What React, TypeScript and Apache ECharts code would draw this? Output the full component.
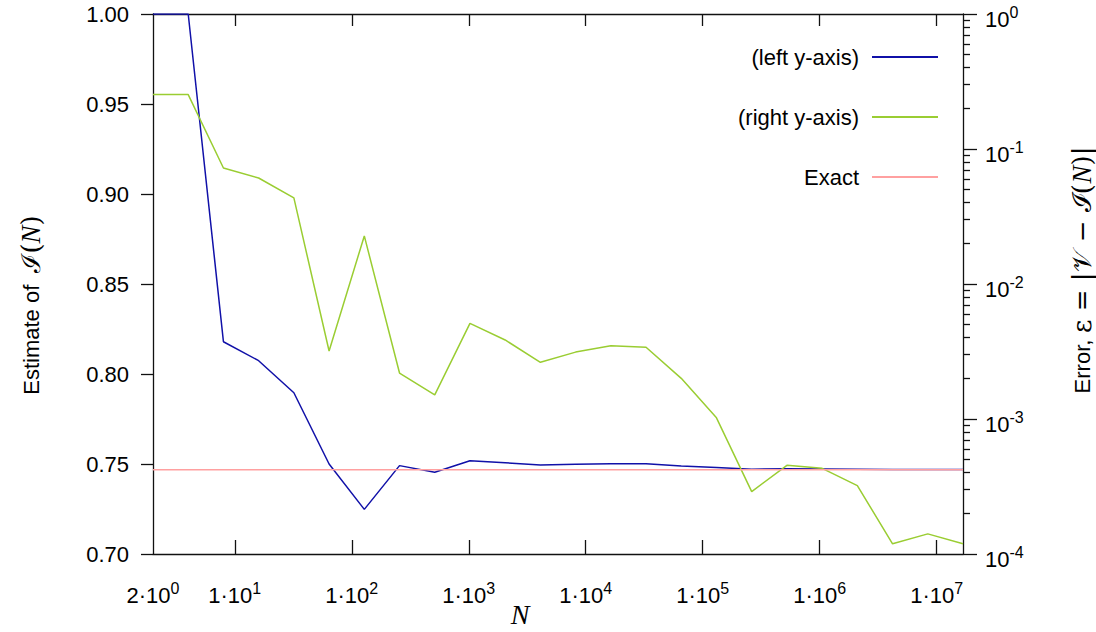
import React, { useEffect, useRef } from "react";
import * as echarts from "echarts";

// ---- data ----
const sampleSizes = [
  2, 4, 8, 16, 32, 64, 128, 256, 512, 1024, 2048, 4096, 8192, 16384, 32768,
  65536, 131072, 262144, 524288, 1048576, 2097152, 4194304, 8388608, 16777216,
];
const estimate = [
  1.0, 1.0, 0.8179, 0.8074, 0.7896, 0.75, 0.7248, 0.7491, 0.7454, 0.7518,
  0.7507, 0.7494, 0.7498, 0.7502, 0.7502, 0.7489, 0.748, 0.7471, 0.7473,
  0.7472, 0.7471, 0.7469, 0.7469, 0.7469,
];
const errorValues = [
  0.253, 0.253, 0.0723, 0.061, 0.0434, 0.00319, 0.0227, 0.00219, 0.00151,
  0.00511, 0.00385, 0.00263, 0.00313, 0.00349, 0.0034, 0.002, 0.00102,
  0.00029, 0.000454, 0.000431, 0.000321, 0.000119, 0.000141, 0.000119,
];
const exactValue = 0.7468;

const seriesNames = ["(left y-axis)", "(right y-axis)", "Exact"];
const xTickValues = [10, 100, 1e3, 1e4, 1e5, 1e6, 1e7];
const xLabelValues = [2, 10, 100, 1e3, 1e4, 1e5, 1e6, 1e7];
const rightMajorValues = [1e-4, 1e-3, 1e-2, 1e-1, 1];
const rightMinorMultipliers = [2, 3, 4, 5, 6, 7, 8, 9];
const rightMinorDecades = [1e-4, 1e-3, 1e-2, 1e-1];

const FONT = "'Liberation Sans', Arial, Helvetica, sans-serif";
const SERIF = "'DejaVu Serif', 'Liberation Serif', serif";
const ISERIF = "'Liberation Serif', 'DejaVu Serif', serif";

const BLUE = "#1010a8";
const GREEN = "#9acd32";
const PINK = "#ffa0a0";
const AXIS = { color: "#111", width: 1.3 };

const supRich = {
  b: { fontSize: 22, lineHeight: 24, verticalAlign: "bottom", fontFamily: FONT, color: "#000" },
  s: { fontSize: 16, lineHeight: 16, padding: [0, 0, 12, 0], fontFamily: FONT, color: "#000" },
};

export default function App() {
  const ref = useRef<HTMLDivElement>(null);

  useEffect(() => {
    if (!ref.current) return;
    const chart = echarts.init(ref.current, undefined, { renderer: "svg" });

    const rightMinorValues: number[] = [];
    rightMinorDecades.forEach((d) =>
      rightMinorMultipliers.forEach((m) => rightMinorValues.push(m * d))
    );
    const xMin = sampleSizes[0];
    const xMax = sampleSizes[sampleSizes.length - 1];

    const option: any = {
      animation: false,
      backgroundColor: "#fff",
      textStyle: { fontFamily: FONT },
      grid: { left: 153, right: 133, top: 14, bottom: 78, containLabel: false },
      legend: {
        orient: "vertical",
        right: 153,
        top: 41,
        align: "right",
        icon: "rect",
        itemWidth: 66,
        itemHeight: 2,
        itemGap: 38,
        selectedMode: false,
        textStyle: { fontSize: 22, color: "#000", fontFamily: FONT, padding: [0, 8, 0, 0] },
        data: seriesNames,
      },
      xAxis: [
        {
          type: "log",
          logBase: 10,
          min: xMin,
          max: xMax,
          position: "bottom",
          axisLine: { show: true, lineStyle: AXIS },
          axisTick: { show: true, inside: true, length: 14, customValues: xTickValues, lineStyle: AXIS },
          axisLabel: {
            customValues: xLabelValues,
            margin: 28,
            formatter: (v: number) => {
              const e = Math.floor(Math.log10(v) + 1e-9);
              const m = Math.round(v / Math.pow(10, e));
              return `{b|${m}·10}{s|${e}}`;
            },
            rich: supRich,
          },
          splitLine: { show: false },
          minorTick: { show: false },
        },
        {
          type: "log",
          logBase: 10,
          min: xMin,
          max: xMax,
          position: "top",
          axisLine: { show: true, lineStyle: AXIS },
          axisTick: { show: true, inside: true, length: 12, customValues: xTickValues, lineStyle: AXIS },
          axisLabel: { show: false },
          splitLine: { show: false },
        },
      ],
      yAxis: [
        {
          type: "value",
          min: 0.7,
          max: 1.0,
          interval: 0.05,
          position: "left",
          axisLine: { show: true, lineStyle: AXIS },
          axisTick: { show: true, inside: false, length: 12, lineStyle: AXIS },
          axisLabel: {
            fontSize: 22,
            color: "#000",
            margin: 24,
            fontFamily: FONT,
            formatter: (v: number) => v.toFixed(2),
          },
          splitLine: { show: false },
        },
        {
          type: "log",
          logBase: 10,
          min: 1e-4,
          max: 1,
          position: "right",
          axisLine: { show: true, lineStyle: AXIS },
          axisTick: { show: true, inside: false, length: 14, customValues: rightMajorValues, lineStyle: AXIS },
          axisLabel: {
            customValues: rightMajorValues,
            margin: 22,
            padding: [8, 0, 0, 0],
            formatter: (v: number) => `{b|10}{s|${Math.round(Math.log10(v))}}`,
            rich: supRich,
          },
          splitLine: { show: false },
        },
        {
          type: "log",
          logBase: 10,
          min: 1e-4,
          max: 1,
          position: "right",
          axisLine: { show: false },
          axisTick: { show: true, inside: false, length: 7, customValues: rightMinorValues, lineStyle: AXIS },
          axisLabel: { show: false },
          splitLine: { show: false },
        },
      ],
      series: [
        {
          name: seriesNames[0],
          type: "line",
          xAxisIndex: 0,
          yAxisIndex: 0,
          showSymbol: false,
          symbol: "none",
          lineStyle: { color: BLUE, width: 1.5 },
          itemStyle: { color: BLUE },
          data: sampleSizes.map((n, i) => [n, estimate[i]]),
        },
        {
          name: seriesNames[1],
          type: "line",
          xAxisIndex: 0,
          yAxisIndex: 1,
          showSymbol: false,
          symbol: "none",
          lineStyle: { color: GREEN, width: 1.5 },
          itemStyle: { color: GREEN },
          data: sampleSizes.map((n, i) => [n, errorValues[i]]),
        },
        {
          name: seriesNames[2],
          type: "line",
          xAxisIndex: 0,
          yAxisIndex: 0,
          showSymbol: false,
          symbol: "none",
          lineStyle: { color: PINK, width: 1.5 },
          itemStyle: { color: PINK },
          data: [
            [xMin, exactValue],
            [xMax, exactValue],
          ],
        },
      ],
      graphic: [
        {
          type: "text",
          x: 520,
          y: 614,
          style: {
            text: "N",
            fontSize: 28,
            fontStyle: "italic",
            fontFamily: ISERIF,
            fill: "#000",
            align: "center",
            verticalAlign: "middle",
          },
        },
        {
          type: "text",
          x: 31,
          y: 305,
          rotation: Math.PI / 2,
          style: {
            text: "{a|Estimate of  }{m|ℐ(}{i|N}{m|)}",
            align: "center",
            verticalAlign: "middle",
            rich: {
              a: { fontSize: 22, fontFamily: FONT, fill: "#000" },
              m: { fontSize: 26, fontFamily: SERIF, fill: "#000" },
              i: { fontSize: 27, fontFamily: ISERIF, fontStyle: "italic", fill: "#000" },
            },
          },
        },
        {
          type: "text",
          x: 1082,
          y: 270,
          rotation: Math.PI / 2,
          style: {
            text: "{a|Error, }{m|ε = |𝒱 − ℐ(}{i|N}{m|)|}",
            align: "center",
            verticalAlign: "middle",
            rich: {
              a: { fontSize: 22, fontFamily: FONT, fill: "#000" },
              m: { fontSize: 26, fontFamily: SERIF, fill: "#000" },
              i: { fontSize: 27, fontFamily: ISERIF, fontStyle: "italic", fill: "#000" },
            },
          },
        },
      ],
    };

    chart.setOption(option);
    return () => chart.dispose();
  }, []);

  return (
    <div
      ref={ref}
      style={{ position: "fixed", left: 0, top: 0, width: 1096, height: 632, background: "#fff" }}
    />
  );
}
